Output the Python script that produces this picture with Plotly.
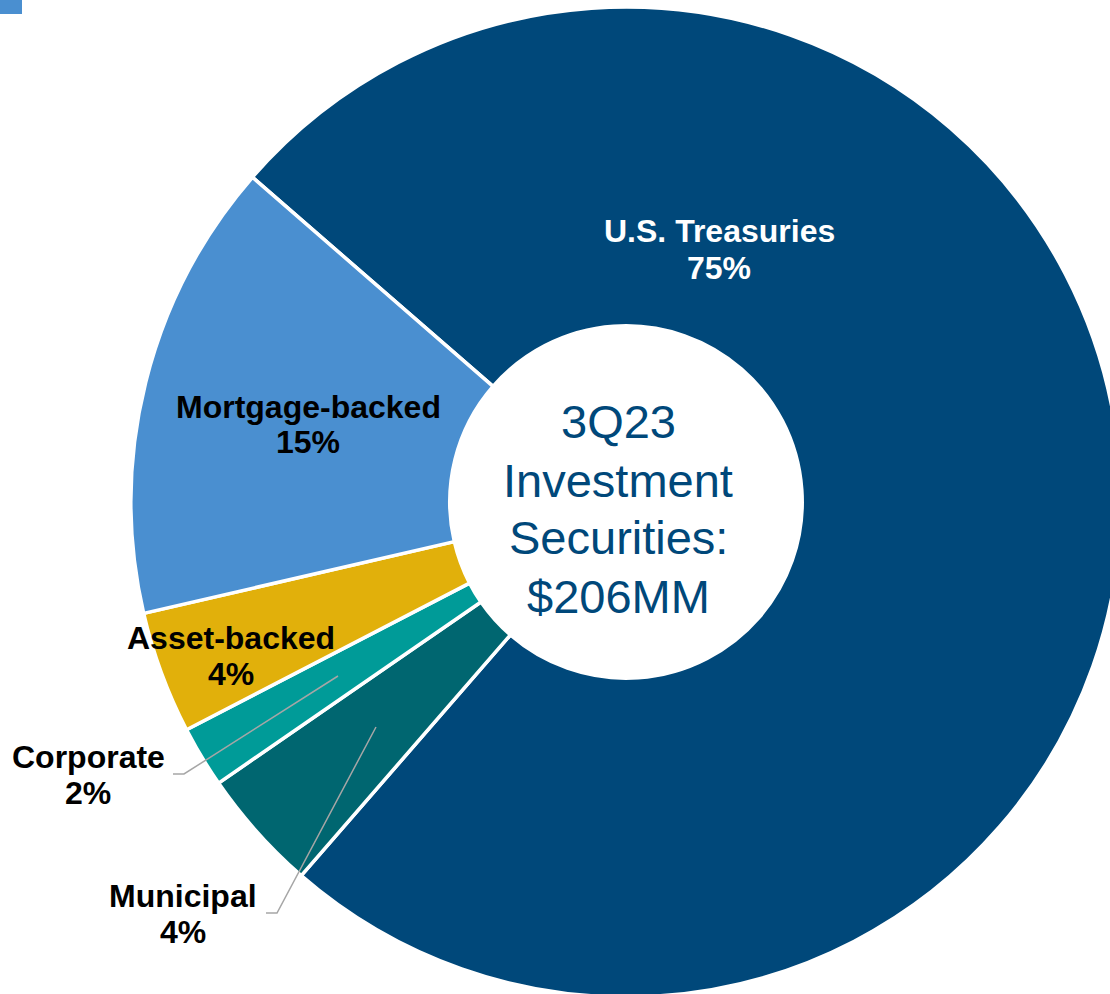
import plotly.graph_objects as go

# ---- data ----
categories = ["U.S. Treasuries", "Municipal", "Corporate", "Asset-backed", "Mortgage-backed"]
values = [75, 4, 2, 4, 15]
colors = ["#00487A", "#006670", "#009B98", "#E1B00B", "#4A8FD0"]
center_lines = ["3Q23", "Investment", "Securities:", "$206MM"]

# ---- layout helpers (page pixels -> paper) ----
W, H = 1130, 1010
def px(x):
    return x / W
def py(y):
    return 1 - y / H

CX, CY, R = 626, 502, 495
FONT = "Liberation Sans, Arial, sans-serif"
NAVY = "#00487A"

label_pos = {
    "U.S. Treasuries": (719, 231, 268, "white"),
    "Mortgage-backed": (308, 407, 442, "black"),
    "Asset-backed": (231, 638, 674, "black"),
    "Corporate": (88, 757, 793, "black"),
    "Municipal": (183, 896, 932, "black"),
}

fig = go.Figure(go.Pie(
    labels=categories,
    values=values,
    marker=dict(colors=colors, line=dict(color="white", width=3.5)),
    hole=0.356,
    sort=False,
    direction="clockwise",
    rotation=-49,
    textinfo="none",
    hoverinfo="label+percent",
    domain=dict(x=[px(CX - R), px(CX + R)], y=[py(CY + R), py(CY - R)]),
))

annotations = []
for cat, v in zip(categories, values):
    x, y1, y2, col = label_pos[cat]
    for txt, yy in ((cat, y1), (f"{v}%", y2)):
        annotations.append(dict(
            x=px(x), y=py(yy), xref="paper", yref="paper",
            xanchor="center", yanchor="middle", showarrow=False,
            text=f"<b>{txt}</b>",
            font=dict(family=FONT, size=32, color=col),
        ))

center_y = [422, 480, 537, 596]
for txt, yy in zip(center_lines, center_y):
    annotations.append(dict(
        x=px(618), y=py(yy), xref="paper", yref="paper",
        xanchor="center", yanchor="middle", showarrow=False,
        text=txt, font=dict(family=FONT, size=47, color=NAVY),
    ))

def path(points):
    return "M " + " L ".join(f"{px(a)},{py(b)}" for a, b in points)

shapes = [
    dict(type="path", xref="paper", yref="paper",
         path=path([(173, 774), (184, 774), (338, 676)]),
         line=dict(color="#A6A6A6", width=1.5)),
    dict(type="path", xref="paper", yref="paper",
         path=path([(266, 913), (277, 913), (376, 727)]),
         line=dict(color="#A6A6A6", width=1.5)),
    dict(type="rect", xref="paper", yref="paper",
         x0=px(0), x1=px(22), y0=py(14), y1=py(0),
         fillcolor="#4A8FD0", line=dict(width=0)),
]

fig.update_layout(
    width=W, height=H,
    margin=dict(l=0, r=0, t=0, b=0),
    paper_bgcolor="white", plot_bgcolor="white",
    showlegend=False,
    annotations=annotations,
    shapes=shapes,
)

fig.write_html(
    "out.html",
    config={"displayModeBar": False},
    post_script="document.body.style.margin='0';document.body.style.overflow='hidden';document.documentElement.style.overflow='hidden';",
)
